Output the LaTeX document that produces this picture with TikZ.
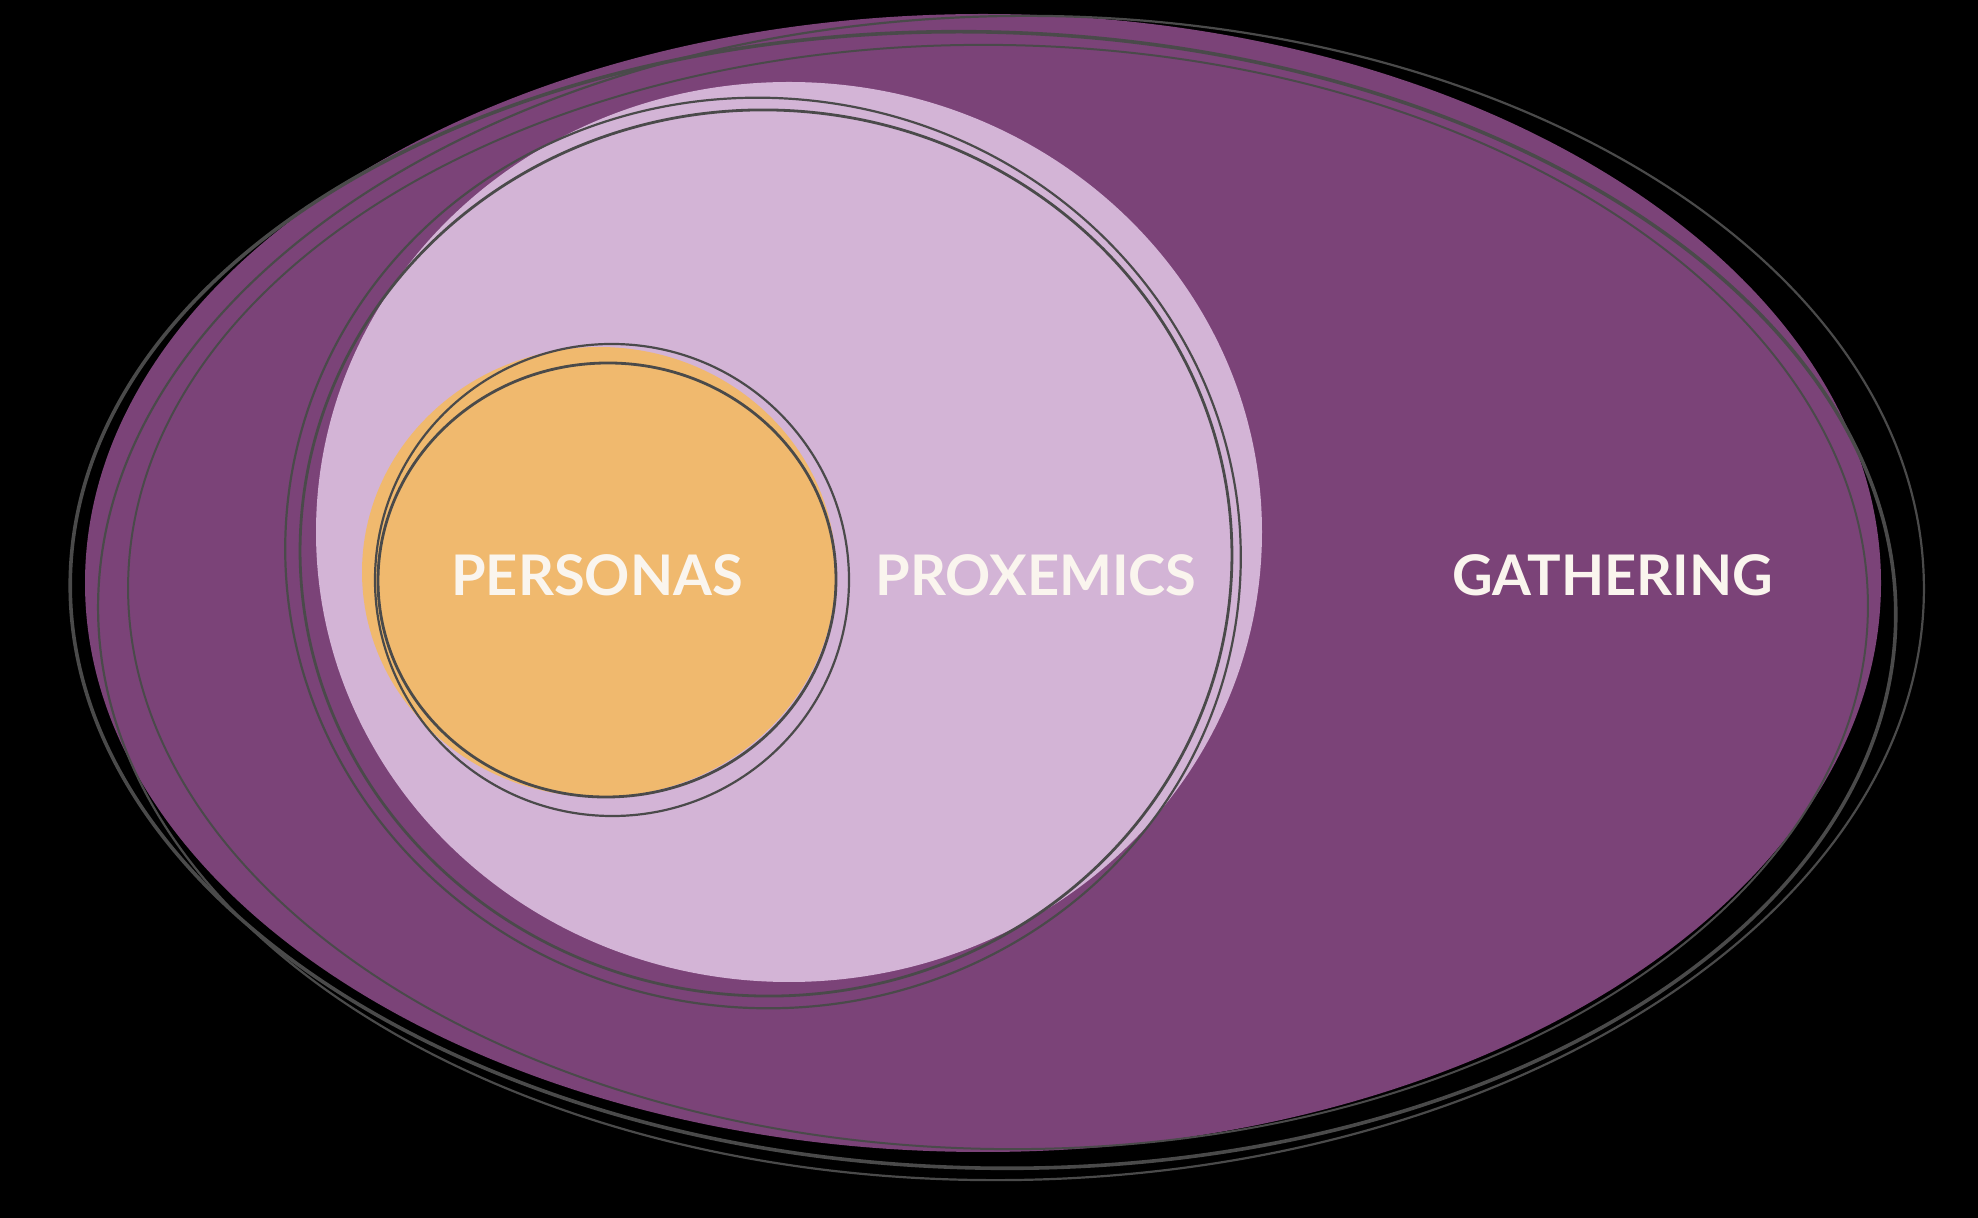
\documentclass[tikz,border=0pt]{standalone}
\usepackage{fontspec}
\setmainfont{Lato}
\usetikzlibrary{shapes.geometric}
\definecolor{Plum}{HTML}{7B4378}
\definecolor{Lilac}{HTML}{D3B4D6}
\definecolor{Apricot}{HTML}{F0B96E}
\definecolor{Ink}{HTML}{4A4A4A}
\definecolor{Cream}{HTML}{FAF5EE}
\begin{document}
\begin{tikzpicture}[
    x=0.5pt, y=-0.5pt,
    blob/.style={ellipse, draw=none, inner sep=0pt, outer sep=0pt},
    sketch/.style={draw=Ink, line width=1.1pt},
    tag/.style={text=Cream, inner sep=0pt, font=\bfseries\fontsize{28}{30}\selectfont}
]

% background
\fill[black] (0,0) rectangle (1978,1218);
\useasboundingbox (0,0) rectangle (1978,1218);

% filled areas
\node[blob, fill=Plum, minimum width=898pt, minimum height=569pt] (gathering) at (983,583) {};
\node[blob, fill=Lilac, minimum width=473pt, minimum height=450pt] (proxemics) at (789,532) {};
\node[blob, fill=Apricot, minimum width=237pt, minimum height=225pt] (personas) at (599,572) {};

% sketchy outlines
\foreach \cx/\cy/\rx/\ry/\a/\w in {983/600/913/568/-1.5/1.8pt, 1011/598/913/582/1/1.1pt, 998/597/870/552/-1/1pt}
  \draw[sketch, line width=\w, rotate around={\a:(\cx,\cy)}] (\cx,\cy) ellipse [x radius=\rx, y radius=\ry];

\foreach \cx/\cy/\rx/\ry/\a/\w in {763/553/478/455/-6/1.1pt, 766/553/466/443/-3/1.4pt}
  \draw[sketch, line width=\w, rotate around={\a:(\cx,\cy)}] (\cx,\cy) ellipse [x radius=\rx, y radius=\ry];

\foreach \cx/\cy/\rx/\ry/\a/\w in {612/580/237/236/-4/1.1pt, 607/580/229/217/2/1.4pt}
  \draw[sketch, line width=\w, rotate around={\a:(\cx,\cy)}] (\cx,\cy) ellipse [x radius=\rx, y radius=\ry];

% labels
\node[tag] (personasText) at (597,575) {PERSONAS};
\node[tag] (proxemicsText) at (1036,575) {PROXEMICS};
\node[tag] (gatheringText) at (1613,575) {GATHERING};

\end{tikzpicture}
\end{document}
